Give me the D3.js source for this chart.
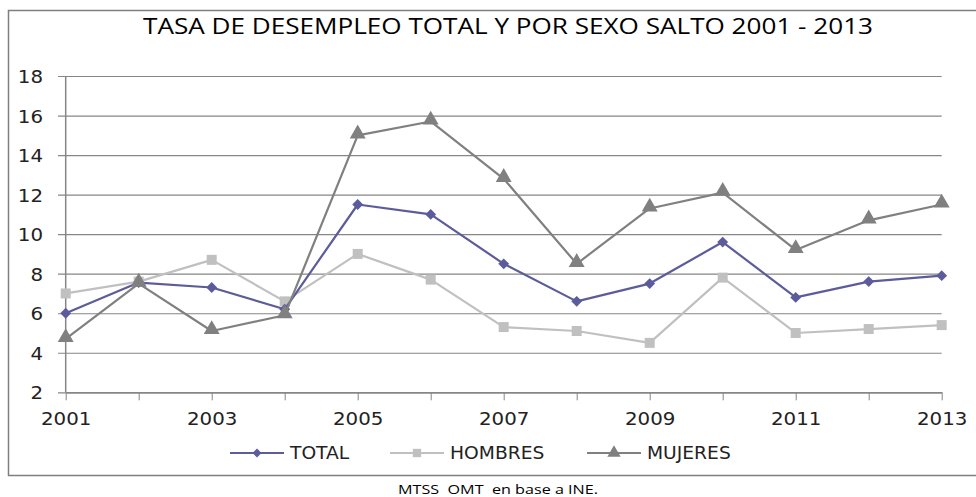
<!DOCTYPE html>
<html>
<head>
<meta charset="utf-8">
<script src="https://cdn.jsdelivr.net/npm/d3@7"></script>
<style>
  body { margin: 0; background: #fff; }
  svg { display: block; }
</style>
</head>
<body>
<div id="chart"></div>
<script>
  // data
  var years = [2001, 2002, 2003, 2004, 2005, 2006, 2007, 2008, 2009, 2010, 2011, 2012, 2013];
  var total    = [6.0, 7.55, 7.3, 6.2, 11.5, 11.0, 8.5, 6.6, 7.5, 9.6, 6.8, 7.6, 7.9];
  var hombres  = [7.0, 7.6, 8.7, 6.6, 9.0, 7.7, 5.3, 5.1, 4.5, 7.8, 5.0, 5.2, 5.4];
  var mujeres  = [4.7, 7.5, 5.1, 5.9, 15.0, 15.7, 12.8, 8.5, 11.3, 12.1, 9.2, 10.7, 11.5];
  var yTicks = [2, 4, 6, 8, 10, 12, 14, 16, 18];
  var xLabels = [2001, 2003, 2005, 2007, 2009, 2011, 2013];

  var seriesList = [
    { name: "TOTAL",    values: total,   color: "#5c5c9c", shape: "diamond" },
    { name: "HOMBRES",  values: hombres, color: "#c0c0c0", shape: "square" },
    { name: "MUJERES",  values: mujeres, color: "#808080", shape: "triangle" }
  ];

  var W = 976, H = 497;
  var svg = d3.select("#chart").append("svg")
      .attr("width", W)
      .attr("height", H);

  var font = "'DejaVu Sans', Verdana, sans-serif";
  var stretch = "scale(1.1,1)";

  // outer border
  svg.append("rect")
    .attr("x", 8.5).attr("y", 10.5)
    .attr("width", 980).attr("height", 465)
    .attr("fill", "none")
    .attr("stroke", "#7f7f7f")
    .attr("stroke-width", 1.5);

  // title
  svg.append("text")
    .attr("x", 143).attr("y", 34)
    .attr("textLength", 730)
    .attr("lengthAdjust", "spacingAndGlyphs")
    .style("font-family", "'Open Sans', sans-serif")
    .style("font-size", "21px")
    .style("fill", "#000")
    .text("TASA DE DESEMPLEO TOTAL Y POR SEXO SALTO 2001 - 2013");

  var x = d3.scaleLinear().domain([2001, 2013]).range([65.7, 941.7]);
  var y = d3.scaleLinear().domain([2, 18]).range([392.3, 76]);

  // gridlines + y labels
  var yAxis = d3.axisLeft(y)
      .tickValues(yTicks)
      .tickSize(-(941.7 - 58))
      .tickPadding(0)
      .tickFormat(d3.format("d"));

  var gy = svg.append("g")
      .attr("transform", "translate(58,0)")
      .call(yAxis);
  gy.select(".domain").remove();
  gy.selectAll(".tick line")
    .attr("stroke", "#868686")
    .attr("stroke-width", 1.2);
  gy.selectAll(".tick text")
    .attr("x", -15 / 1.1)
    .attr("dy", "0.36em")
    .attr("transform", stretch)
    .style("font-family", font)
    .style("font-size", "18px")
    .style("fill", "#222");

  // y axis line
  svg.append("line")
    .attr("x1", x(2001)).attr("x2", x(2001))
    .attr("y1", y(18)).attr("y2", y(2))
    .attr("stroke", "#868686")
    .attr("stroke-width", 1.5);

  // x axis
  var xAxis = d3.axisBottom(x)
      .tickValues(years)
      .tickSize(8)
      .tickSizeOuter(0)
      .tickPadding(12)
      .tickFormat(function(d) { return xLabels.indexOf(d) >= 0 ? d : ""; });

  var gx = svg.append("g")
      .attr("transform", "translate(0," + y(2) + ")")
      .call(xAxis);
  gx.select(".domain")
    .attr("stroke", "#868686")
    .attr("stroke-width", 1.5);
  gx.selectAll(".tick line")
    .attr("stroke", "#868686");
  gx.selectAll(".tick text")
    .attr("transform", stretch)
    .style("font-family", font)
    .style("font-size", "18px")
    .style("fill", "#222");

  var symbolFor = {
    diamond:  function(s) { return d3.symbol().type(d3.symbolDiamond2).size(s)(); },
    square:   function(s) { return d3.symbol().type(d3.symbolSquare).size(s)(); },
    triangle: function(s) { return d3.symbol().type(d3.symbolTriangle).size(s)(); }
  };
  var symbolSize = { diamond: 75, square: 100, triangle: 110 };

  var line = d3.line()
      .x(function(d, i) { return x(years[i]); })
      .y(function(d) { return y(d); });

  // draw in order so MUJERES sits on top like the reference
  var drawOrder = [seriesList[1], seriesList[0], seriesList[2]];
  drawOrder.forEach(function(s) {
    svg.append("path")
      .datum(s.values)
      .attr("fill", "none")
      .attr("stroke", s.color)
      .attr("stroke-width", 2.2)
      .attr("stroke-linejoin", "round")
      .attr("d", line);

    svg.selectAll(".pt-" + s.shape)
      .data(s.values)
      .enter().append("path")
        .attr("class", "pt-" + s.shape)
        .attr("transform", function(d, i) {
          var dy = s.shape === "triangle" ? -1.5 : 0;
          return "translate(" + x(years[i]) + "," + (y(d) + dy) + ")";
        })
        .attr("d", symbolFor[s.shape](symbolSize[s.shape]))
        .attr("fill", s.color);
  });

  // legend
  var legendX = [230, 390, 587];
  var legendY = 453;
  var lg = svg.selectAll(".legend")
      .data(seriesList)
      .enter().append("g")
        .attr("class", "legend")
        .attr("transform", function(d, i) { return "translate(" + legendX[i] + "," + legendY + ")"; });

  lg.append("line")
    .attr("x1", 0).attr("x2", 54)
    .attr("y1", 0).attr("y2", 0)
    .attr("stroke", function(d) { return d.color; })
    .attr("stroke-width", 2.2);

  lg.append("path")
    .attr("transform", "translate(27,0)")
    .attr("d", function(d) { return symbolFor[d.shape](symbolSize[d.shape] * 0.7); })
    .attr("fill", function(d) { return d.color; });

  lg.append("text")
    .attr("x", 60 / 1.1)
    .attr("dy", "0.36em")
    .attr("transform", stretch)
    .style("font-family", font)
    .style("font-size", "17px")
    .style("fill", "#222")
    .text(function(d) { return d.name; });

  // source note
  svg.append("text")
    .attr("x", 398).attr("y", 494)
    .attr("textLength", 200)
    .attr("lengthAdjust", "spacingAndGlyphs")
    .style("white-space", "pre")
    .style("font-family", "'Open Sans', sans-serif")
    .style("font-size", "13px")
    .style("fill", "#000")
    .text("MTSS  OMT  en base a INE.");
</script>
</body>
</html>
